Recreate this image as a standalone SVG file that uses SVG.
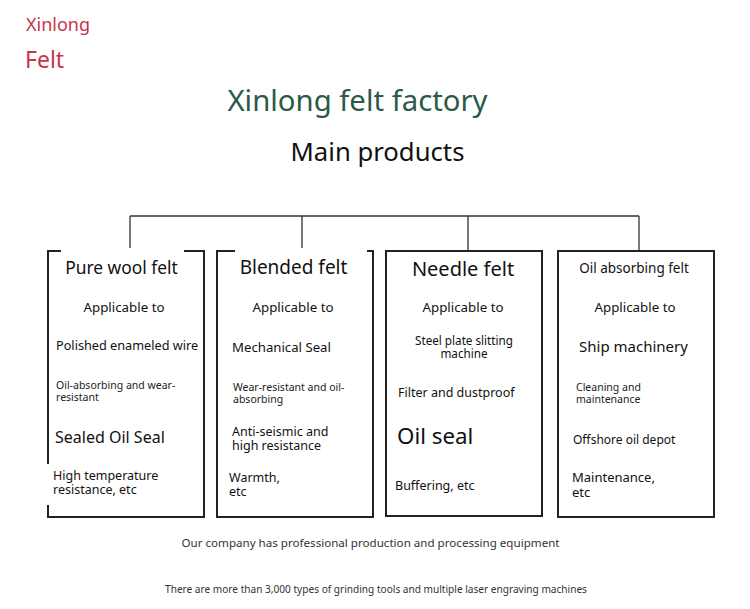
<svg xmlns="http://www.w3.org/2000/svg" width="750" height="609" viewBox="0 0 750 609">
<style>
text{font-family:"Noto Sans","Open Sans","DejaVu Sans",sans-serif;fill:#111}
.brand{fill:#c8354b}
.title{fill:#2b5a48}
.box{fill:none;stroke:#222;stroke-width:2}
.conn{fill:none;stroke:#333;stroke-width:1.3}
.a{font-size:13.3px}
.t{font-size:12.5px}
.s{font-size:10.5px;fill:#222}
.foot{fill:#333}
.mask{fill:#fff}
</style>
<rect width="750" height="609" fill="#fff"/>
<g id="brand">
<text class="brand" x="26" y="31" font-size="18">Xinlong</text>
<text class="brand" x="25" y="68" font-size="23">Felt</text>
</g>
<g id="header">
<text class="title" x="357.5" y="111" font-size="29.3" text-anchor="middle">Xinlong felt factory</text>
<text x="377.5" y="161" font-size="25.7" text-anchor="middle">Main products</text>
</g>
<g id="connectors">
<path class="conn" d="M130 216H639M130 216V250M302 216V250M468 216V250M639 216V250"/>
</g>
<g id="pure-wool-felt">
<rect class="box" x="48" y="251" width="156" height="266"/>
<rect class="mask" x="61" y="248" width="123" height="6"/>
<rect class="mask" x="45" y="464" width="6" height="41"/>
<text x="121.5" y="274" font-size="17.4" text-anchor="middle">Pure wool felt</text>
<text class="a" x="124" y="312" text-anchor="middle">Applicable to</text>
<text x="56" y="350" font-size="12.7">Polished enameled wire</text>
<text class="s" x="56" y="389">Oil-absorbing and wear-</text>
<text class="s" x="56" y="401">resistant</text>
<text x="55" y="443" font-size="16">Sealed Oil Seal</text>
<text class="t" x="53" y="480">High temperature</text>
<text class="t" x="53" y="494">resistance, etc</text>
</g>
<g id="blended-felt">
<rect class="box" x="217" y="251" width="156" height="266"/>
<rect class="mask" x="235" y="248" width="132" height="6"/>
<text x="293.5" y="274" font-size="19" text-anchor="middle">Blended felt</text>
<text class="a" x="293" y="312" text-anchor="middle">Applicable to</text>
<text x="232" y="352" font-size="13.2">Mechanical Seal</text>
<text class="s" x="233" y="391">Wear-resistant and oil-</text>
<text class="s" x="233" y="403">absorbing</text>
<text class="t" x="232" y="436">Anti-seismic and</text>
<text class="t" x="232" y="450">high resistance</text>
<text class="t" x="229" y="482">Warmth,</text>
<text class="t" x="229" y="496">etc</text>
</g>
<g id="needle-felt">
<rect class="box" x="386" y="251" width="156" height="265"/>
<text x="463" y="276" font-size="20" text-anchor="middle">Needle felt</text>
<text class="a" x="463" y="312" text-anchor="middle">Applicable to</text>
<text x="464" y="345" font-size="11.7" text-anchor="middle">Steel plate slitting</text>
<text x="464" y="358" font-size="11.7" text-anchor="middle">machine</text>
<text class="t" x="398" y="397">Filter and dustproof</text>
<text x="397" y="444" font-size="22.3">Oil seal</text>
<text class="t" x="395" y="490">Buffering, etc</text>
</g>
<g id="oil-absorbing-felt">
<rect class="box" x="558" y="251" width="156" height="266"/>
<text x="634" y="273" font-size="13.5" text-anchor="middle">Oil absorbing felt</text>
<text class="a" x="635" y="312" text-anchor="middle">Applicable to</text>
<text x="579" y="352" font-size="15">Ship machinery</text>
<text class="s" x="576" y="391">Cleaning and</text>
<text class="s" x="576" y="403">maintenance</text>
<text x="573" y="444" font-size="12">Offshore oil depot</text>
<text x="572" y="482" font-size="13">Maintenance,</text>
<text x="572" y="497" font-size="13">etc</text>
</g>
<g id="footer">
<text class="foot" x="370.5" y="547" font-size="11.6" text-anchor="middle">Our company has professional production and processing equipment</text>
<text class="foot" x="376" y="593" font-size="10.1" text-anchor="middle">There are more than 3,000 types of grinding tools and multiple laser engraving machines</text>
</g>
</svg>
